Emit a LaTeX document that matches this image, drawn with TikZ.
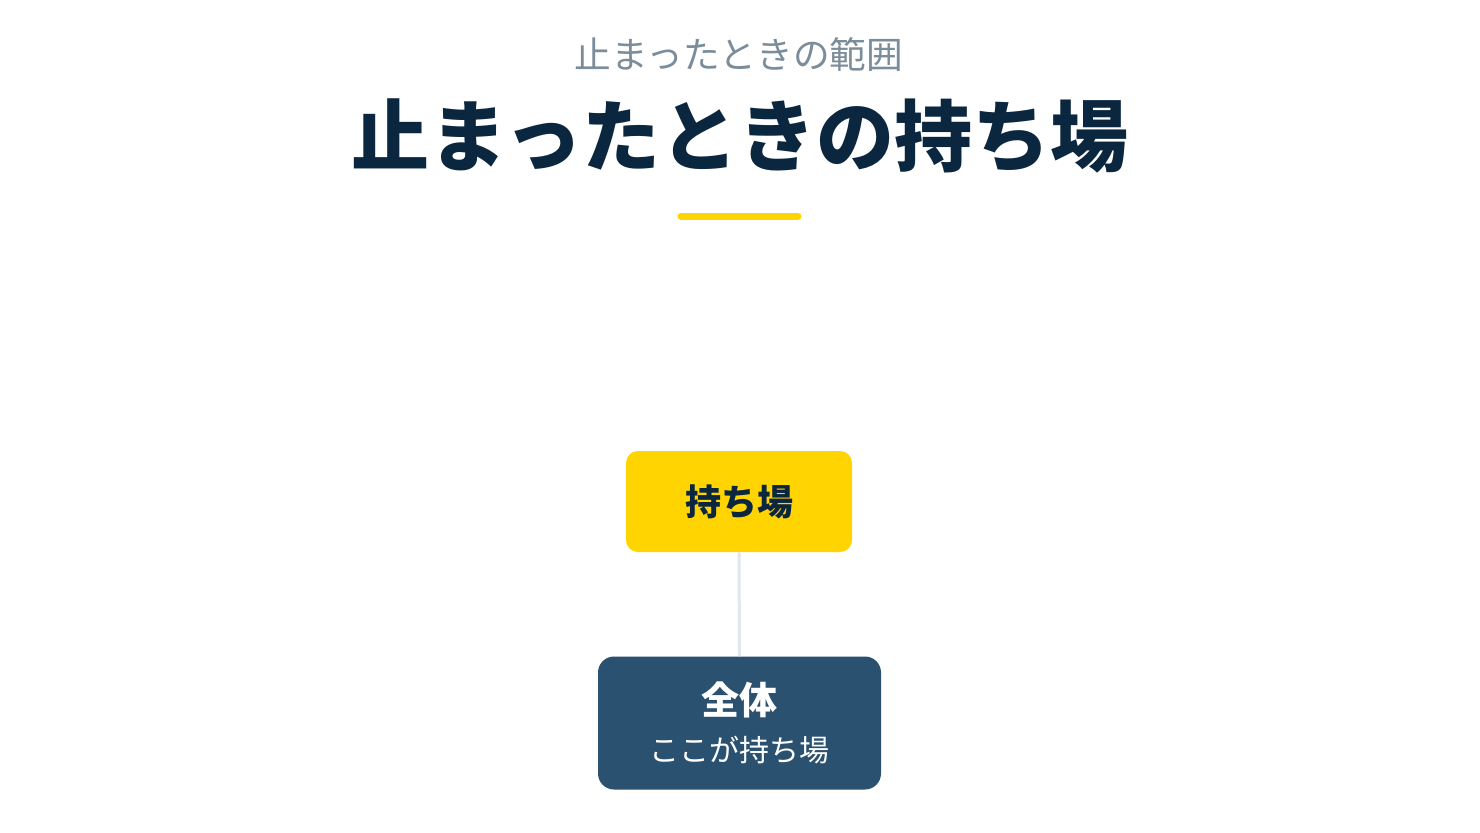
\documentclass[tikz,border=0pt]{standalone}
\usepackage{fontspec}
\setmainfont{Noto Sans CJK JP}
\usepackage{tikz}

\definecolor{navy}{HTML}{0B2740}
\definecolor{slate}{HTML}{7B8D9A}
\definecolor{gold}{HTML}{FFD400}
\definecolor{steel}{HTML}{2A5170}
\definecolor{rule}{HTML}{E3E7EB}

\tikzset{
  holdbox/.style={fill=gold,rounded corners=9pt,minimum width=169.5pt,minimum height=75.75pt,inner sep=0pt,text=navy,font=\bfseries\fontsize{27}{30}\selectfont},
  wholebox/.style={fill=steel,rounded corners=12pt,minimum width=212.25pt,minimum height=99.75pt,inner sep=0pt,text=white,align=center},
}

\begin{document}
\begin{tikzpicture}[x=0.75pt,y=0.75pt,yscale=-1,xscale=1]
	\useasboundingbox (0,0) rectangle (1480,832);
	\fill[white] (0,0) rectangle (1480,832);
	
	% Text Node
	\node (sub) at (739,55) [inner sep=0.75pt,text=slate,font=\fontsize{27.5}{30}\selectfont] {止まったときの範囲};
	% Text Node
	\node (title) at (740,136) [inner sep=0.75pt,text=navy,font=\bfseries\fontsize{58.5}{62}\selectfont] {止まったときの持ち場};
	%Straight Lines
	\draw [gold,line width=5.25pt,line cap=round] (681,216) -- (798,216) ;
	
	% Box Nodes
	\node (hold) at (739,501.5) [holdbox] {持ち場};
	\node (whole) at (739.5,723) [wholebox] {{\bfseries\fontsize{28.5}{30}\selectfont 全体}\\[12.5pt]{\fontsize{22.5}{26}\selectfont ここが持ち場}};
	
	%Connector
	\draw [rule,line width=2.25pt] (hold.south) -- (whole.north) ;
	
\end{tikzpicture}
\end{document}
